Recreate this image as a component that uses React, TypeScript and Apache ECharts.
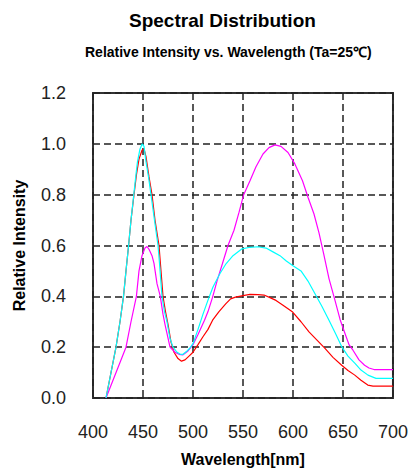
import React, { useEffect, useRef } from "react";
import * as echarts from "echarts";

const xTicks = [400, 450, 500, 550, 600, 650, 700];
const yTicks = [0, 0.2, 0.4, 0.6, 0.8, 1.0, 1.2];

const cyanWl = [413, 418, 423, 427, 430.5, 433, 435.6, 438, 440.8, 443, 444.5, 447, 449.3, 451, 453, 455.5, 458, 461.5, 465, 466.5, 469, 471.5, 474, 477, 480, 484, 487, 490, 494, 497, 500, 505, 510, 515, 520, 527, 533, 540, 549, 557, 565, 573, 580, 587, 593, 600, 608, 615, 622, 629, 636, 643, 649, 655, 662, 668, 675, 683, 690, 700];
const cyanVal = [0, 0.1, 0.2, 0.3, 0.4, 0.5, 0.6, 0.7, 0.8, 0.88, 0.93, 0.98, 1.0, 0.99, 0.93, 0.87, 0.8, 0.7, 0.6, 0.53, 0.4, 0.34, 0.3, 0.234, 0.2, 0.18, 0.173, 0.172, 0.185, 0.197, 0.214, 0.27, 0.33, 0.385, 0.437, 0.49, 0.528, 0.56, 0.587, 0.593, 0.595, 0.59, 0.575, 0.56, 0.54, 0.52, 0.5, 0.46, 0.41, 0.36, 0.306, 0.25, 0.2, 0.165, 0.136, 0.11, 0.09, 0.077, 0.077, 0.077];

const magentaWl = [413, 420, 427, 433, 438, 443.4, 446, 449, 452, 454, 456, 459, 461, 464, 467.3, 470, 472, 477, 482, 486, 490, 495, 500, 505, 511.5, 515, 519.6, 524, 529.4, 535, 541, 546, 550.7, 557, 563, 570, 576, 582, 588, 595, 602, 609.5, 615, 621, 626, 630.7, 636, 642, 647, 652, 656, 660, 666, 671.6, 676, 681, 690, 700];
const magentaVal = [0, 0.07, 0.14, 0.2, 0.3, 0.4, 0.5, 0.56, 0.59, 0.596, 0.585, 0.56, 0.53, 0.45, 0.4, 0.33, 0.29, 0.2, 0.18, 0.172, 0.17, 0.185, 0.21, 0.25, 0.306, 0.34, 0.397, 0.46, 0.528, 0.6, 0.66, 0.73, 0.8, 0.855, 0.91, 0.96, 0.985, 0.996, 0.99, 0.966, 0.92, 0.855, 0.79, 0.724, 0.65, 0.567, 0.47, 0.384, 0.31, 0.254, 0.21, 0.188, 0.15, 0.129, 0.118, 0.112, 0.112, 0.112];

const redWl = [413, 418, 423, 427, 430.5, 433, 435.6, 438, 441, 443.5, 446, 449, 451, 453, 456, 459, 462, 466, 467, 470, 472.5, 475, 478, 481, 485, 488.5, 492, 496, 500, 505, 509.8, 515, 519.6, 526, 532.7, 537.6, 542.5, 550, 557, 565, 571, 577, 583, 590, 599.7, 608, 616, 624, 632, 640, 648.7, 655, 661.8, 668, 674.8, 680, 690, 700];
const redVal = [0, 0.1, 0.2, 0.3, 0.4, 0.5, 0.6, 0.7, 0.8, 0.88, 0.94, 0.975, 0.98, 0.95, 0.87, 0.8, 0.7, 0.6, 0.55, 0.4, 0.34, 0.29, 0.22, 0.18, 0.155, 0.145, 0.15, 0.165, 0.18, 0.21, 0.24, 0.27, 0.306, 0.34, 0.37, 0.39, 0.397, 0.403, 0.408, 0.407, 0.405, 0.395, 0.384, 0.365, 0.338, 0.3, 0.26, 0.228, 0.195, 0.16, 0.129, 0.108, 0.09, 0.07, 0.051, 0.047, 0.047, 0.047];

const zip = (xs: number[], ys: number[]) => xs.map((x, i) => [x, ys[i]]);

export default function App() {
  const ref = useRef<HTMLDivElement>(null);
  useEffect(() => {
    if (!ref.current) return;
    const chart = echarts.init(ref.current, undefined, { renderer: "svg" });
    const gridLine = { show: true, lineStyle: { color: "#222", width: 1.5, type: [7, 4] as any } };
    chart.setOption({
      animation: false,
      backgroundColor: "#fff",
      title: [
        {
          text: "Spectral Distribution",
          left: 124,
          top: 6,
          textStyle: { fontFamily: "Liberation Sans", fontWeight: "bold", fontSize: 19, color: "#000" },
        },
        {
          text: "Relative Intensity vs. Wavelength (Ta=25℃)",
          left: 80,
          top: 40,
          textStyle: { fontFamily: "Liberation Sans", fontWeight: "bold", fontSize: 14, color: "#000" },
        },
      ],
      grid: { left: 93, top: 93, right: 12, bottom: 75, show: true, borderColor: "#333", borderWidth: 2, backgroundColor: "transparent" },
      xAxis: {
        type: "value",
        min: xTicks[0],
        max: xTicks[xTicks.length - 1],
        interval: 50,
        axisLine: { show: false },
        axisTick: { show: false },
        splitLine: gridLine,
        axisLabel: { margin: 25, fontFamily: "Liberation Sans", fontSize: 18, color: "#222", showMinLabel: true, showMaxLabel: true },
        name: "Wavelength[nm]",
        nameLocation: "middle",
        nameGap: 53,
        nameTextStyle: { fontFamily: "Liberation Sans", fontWeight: "bold", fontSize: 16, color: "#000", verticalAlign: "top" },
      },
      yAxis: {
        type: "value",
        min: yTicks[0],
        max: yTicks[yTicks.length - 1],
        interval: 0.2,
        axisLine: { show: false },
        axisTick: { show: false },
        splitLine: gridLine,
        axisLabel: { margin: 27, fontFamily: "Liberation Sans", fontSize: 18, color: "#222", formatter: (v: number) => v.toFixed(1) },
        name: "Relative Intensity",
        nameLocation: "middle",
        nameGap: 66,
        nameRotate: 90,
        nameTextStyle: { fontFamily: "Liberation Sans", fontWeight: "bold", fontSize: 16, color: "#000" },
      },
      series: [
        { type: "line", data: zip(redWl, redVal), showSymbol: false, lineStyle: { color: "#ff0000", width: 1.2 }, z: 2 },
        { type: "line", data: zip(magentaWl, magentaVal), showSymbol: false, lineStyle: { color: "#ff00ff", width: 1.2 }, z: 3 },
        { type: "line", data: zip(cyanWl, cyanVal), showSymbol: false, lineStyle: { color: "#00ffff", width: 1.2 }, z: 4 },
      ],
    });
    return () => chart.dispose();
  }, []);
  return <div ref={ref} style={{ position: "fixed", left: 0, top: 0, width: 411, height: 473 }} />;
}
